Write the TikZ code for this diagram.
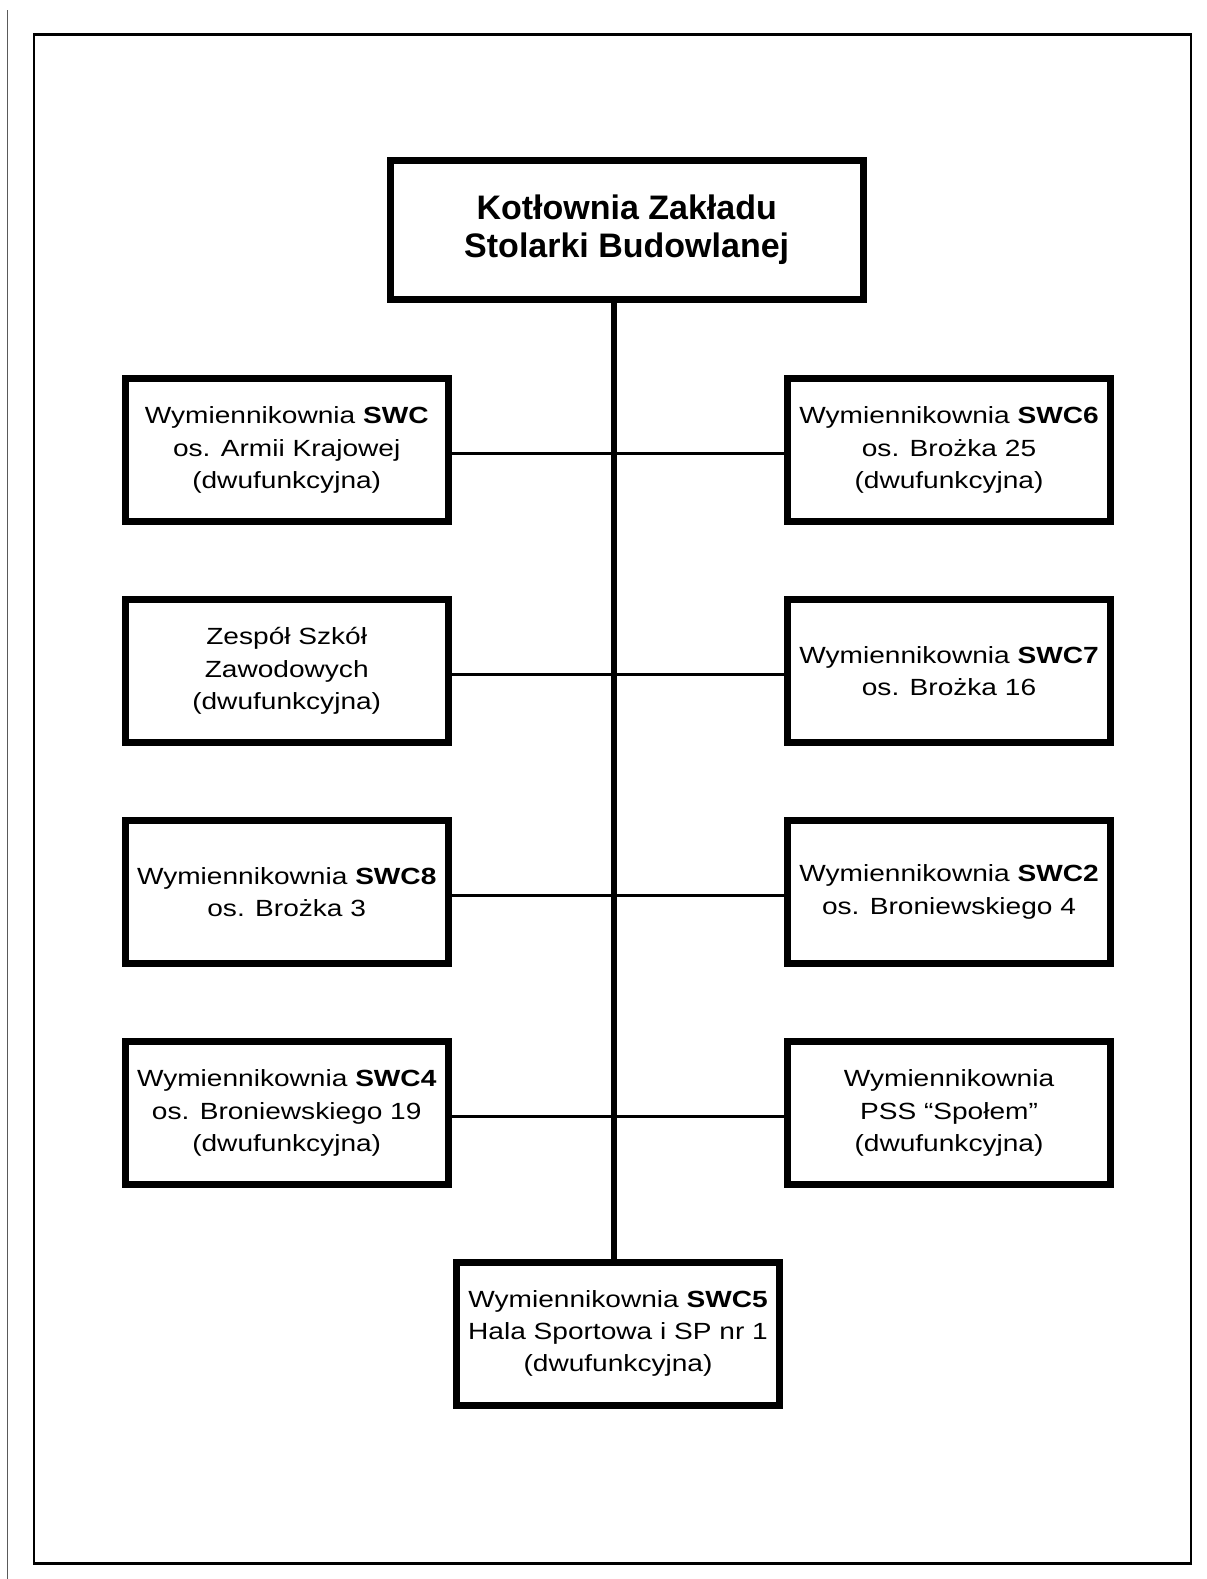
\documentclass[tikz,border=0pt]{standalone}
\usepackage{fontspec}
\setmainfont{Liberation Sans}
\newfontfamily\widefont[FakeStretch=1.2]{Liberation Sans}
\usetikzlibrary{positioning}
\definecolor{ink}{RGB}{0,0,0}
\definecolor{rule}{RGB}{90,90,90}
\tikzset{
  x=0.5pt,y=-0.5pt,
  unit/.style={draw=ink,line width=3.5pt,minimum width=161.5pt,minimum height=71.5pt,
    inner sep=0pt,align=center,font=\widefont\fontsize{11.7}{16.1}\selectfont},
  head/.style={draw=ink,line width=3.5pt,minimum width=236.5pt,minimum height=69.5pt,
    inner sep=0pt,align=center,font=\bfseries\fontsize{17}{19.2}\selectfont},
  spine/.style={draw=ink,line width=3pt},
  branch/.style={draw=ink,line width=1.5pt},
}
\begin{document}
\begin{tikzpicture}
  \useasboundingbox (0,0) rectangle (1206,1579);
  % page edges
  \draw[rule,line width=0.6pt] (7.5,10) -- (7.5,1579);
  \draw[ink,line width=1.2pt] (34,34.3) rectangle (1190.7,1563.3);
  % source
  \node[head] (kot) at (626.7,230) {Kotłownia Zakładu\\Stolarki Budowlanej};
  % substations
  \node[unit] (swc)  at (286.7,450) {Wymiennikownia \textbf{SWC}\\os. Armii Krajowej\\(dwufunkcyjna)};
  \node[unit] (swc6) at (949,450)   {Wymiennikownia \textbf{SWC6}\\os. Brożka 25\\(dwufunkcyjna)};
  \node[unit] (zsz)  at (286.7,671) {Zespół Szkół\\Zawodowych\\(dwufunkcyjna)};
  \node[unit] (swc7) at (949,671)   {Wymiennikownia \textbf{SWC7}\\os. Brożka 16};
  \node[unit] (swc8) at (286.7,892) {Wymiennikownia \textbf{SWC8}\\os. Brożka 3};
  \node[unit] (swc2) at (949,892)   {Wymiennikownia \textbf{SWC2}\\os. Broniewskiego 4};
  \node[unit] (swc4) at (286.7,1113) {Wymiennikownia \textbf{SWC4}\\os. Broniewskiego 19\\(dwufunkcyjna)};
  \node[unit] (pss)  at (949,1113)  {Wymiennikownia\\PSS “Społem”\\(dwufunkcyjna)};
  \node[unit] (swc5) at (618,1333.5) {Wymiennikownia \textbf{SWC5}\\Hala Sportowa i SP nr 1\\(dwufunkcyjna)};
  % pipes
  \coordinate (top) at (kot.south -| 613.7,0);
  \coordinate (bot) at (swc5.north -| 613.7,0);
  \draw[spine] (top) -- (bot);
  \foreach \l/\r in {swc/swc6,zsz/swc7,swc8/swc2,swc4/pss}
    \draw[branch] ([yshift=-1.5pt]\l.east) -- ([yshift=-1.5pt]\r.west);
\end{tikzpicture}
\end{document}
